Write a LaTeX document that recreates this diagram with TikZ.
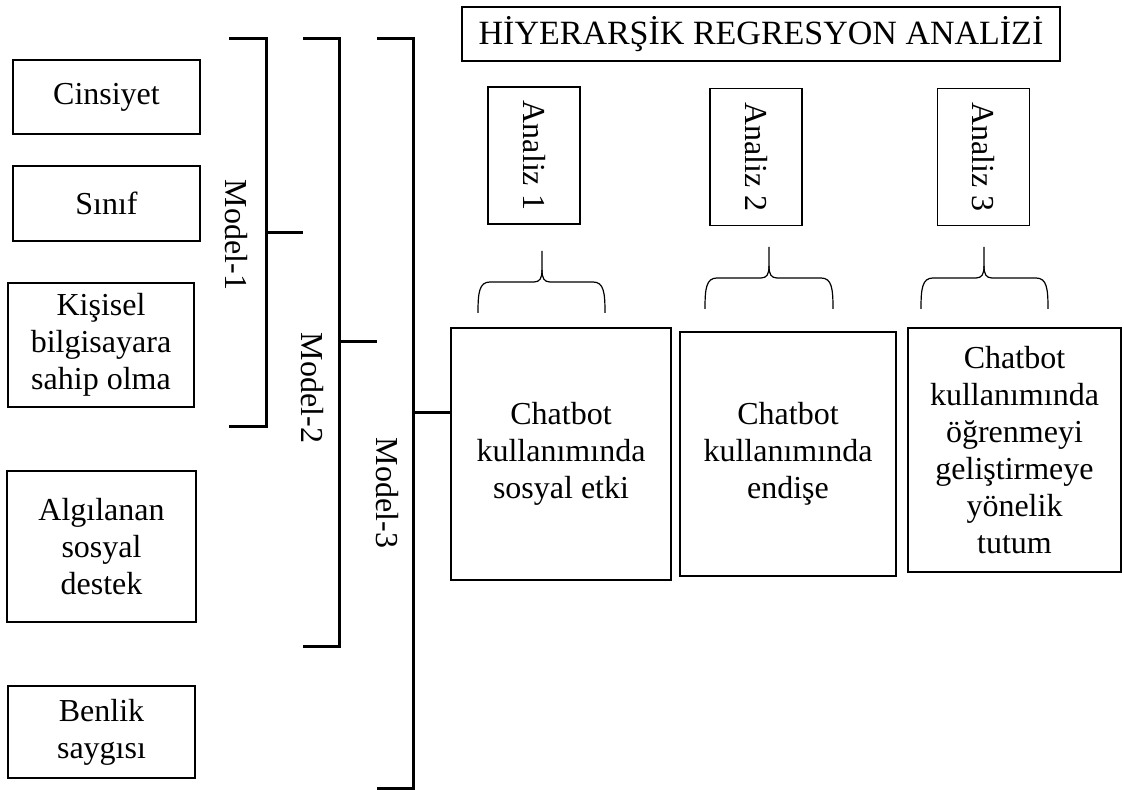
\documentclass[tikz,border=0pt]{standalone}
\usepackage{fontspec}
\setmainfont{Liberation Serif}
\usetikzlibrary{positioning}

\begin{document}
\begin{tikzpicture}[
    x=0.5pt, y=-0.5pt,
    box/.style={
        rectangle,
        draw=black,
        thick,
        align=center,
        font=\fontsize{16}{18.5}\selectfont
    },
    anbox/.style={
        rectangle,
        draw=black,
        line width=0.6pt,
        rotate=-90,
        minimum width=68.5pt,
        minimum height=46pt,
        font=\fontsize{16}{19}\selectfont
    },
    modlabel/.style={
        rotate=-90,
        font=\fontsize{16}{19}\selectfont
    },
    bracket/.style={
        line width=1.5pt
    },
    curly/.style={
        line width=0.6pt
    }
]
\useasboundingbox (0,0) rectangle (1124,790);

% Left column (predictors)
\node[box, minimum width=93.5pt, minimum height=37pt]   (cins)   at (106.5,97)  {Cinsiyet};
\node[box, minimum width=93.5pt, minimum height=37.5pt] (sinif)  at (106.5,203.5) {Sınıf};
\node[box, minimum width=93pt,   minimum height=62pt]   (pc)     at (101,345)   {Kişisel\\bilgisayara\\sahip olma};
\node[box, minimum width=94.5pt, minimum height=75.5pt] (destek) at (101.5,546.5) {Algılanan\\sosyal\\destek};
\node[box, minimum width=93.5pt, minimum height=46pt]   (benlik) at (101.5,732) {Benlik\\saygısı};

% Brackets for the models
\draw[bracket] (229,39) -| (266,427) -- (229,427);
\draw[bracket] (266,233) -- (303,233);
\draw[bracket] (303,39) -| (339,646) -- (303,646);
\draw[bracket] (339,342) -- (377,342);
\draw[bracket] (377,39) -| (413,788) -- (377,788);

\node[modlabel] (m1) at (236,235) {Model-1};
\node[modlabel] (m2) at (312,388) {Model-2};
\node[modlabel] (m3) at (387,493) {Model-3};

% Title
\node[box, minimum width=299pt, minimum height=27pt, font=\fontsize{17}{19}\selectfont] (title) at (761,34) {HİYERARŞİK REGRESYON ANALİZİ};

% Analyses
\node[anbox] (an1) at (534,155.5) {Analiz 1};
\node[anbox] (an2) at (756,157)   {Analiz 2};
\node[anbox] (an3) at (983.5,157) {Analiz 3};

% Outcomes
\node[box, minimum width=110pt,  minimum height=126pt] (out1) at (561,454)    {Chatbot\\kullanımında\\sosyal etki};
\node[box, minimum width=108pt,  minimum height=122pt] (out2) at (788,454)    {Chatbot\\kullanımında\\endişe};
\node[box, minimum width=106.5pt, minimum height=122pt] (out3) at (1014.5,450) {Chatbot\\kullanımında\\öğrenmeyi\\geliştirmeye\\yönelik\\tutum};

\draw[bracket] (413,413) -- (413,413 -| out1.west);

% Braces
\foreach \xl/\xc/\xr/\yt in {478/542/605/251, 705/769/833/247, 921/984/1048/247} {
    \draw[curly] (\xl,\yt+62) .. controls (\xl,\yt+42) and (\xl+1,\yt+31) .. (\xl+12,\yt+31)
        -- (\xc-8,\yt+31) .. controls (\xc-2,\yt+31) and (\xc,\yt+27) .. (\xc,\yt+19) -- (\xc,\yt);
    \draw[curly] (\xc,\yt+19) .. controls (\xc,\yt+27) and (\xc+2,\yt+31) .. (\xc+8,\yt+31)
        -- (\xr-12,\yt+31) .. controls (\xr-1,\yt+31) and (\xr,\yt+42) .. (\xr,\yt+62);
}

\end{tikzpicture}
\end{document}
